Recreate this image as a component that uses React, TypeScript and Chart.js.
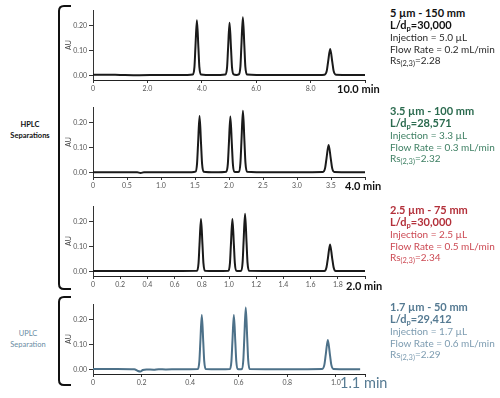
import React, { useEffect, useRef } from "react";
import { Chart, registerables } from "chart.js";
Chart.register(...registerables);

// ---------- Data ----------
const yTicks = [0, 0.1, 0.2];
const yTickLabels = ["0.00", "0.10", "0.20"];

// Panel 1: 5 µm - 150 mm (0–10 min)
const times1 = [0, 0.5, 1.0, 1.7, 2.5, 3.2, 3.67, 3.73, 3.765, 3.82, 3.875, 3.91, 3.97, 4.4, 4.87, 4.93, 4.965, 5.02, 5.075, 5.11, 5.17, 5.27, 5.36, 5.42, 5.455, 5.51, 5.565, 5.6, 5.66, 6.5, 7.5, 8.3, 8.51, 8.594, 8.643, 8.72, 8.797, 8.846, 8.93, 9.5, 10];
const values1 = [0.005, 0.005, 0.004, 0.003, 0.004, 0.004, 0.006, 0.036, 0.112, 0.22, 0.112, 0.036, 0.006, 0.004, 0.006, 0.035, 0.107, 0.21, 0.107, 0.035, 0.006, 0.004, 0.006, 0.038, 0.118, 0.232, 0.118, 0.038, 0.006, 0.004, 0.004, 0.004, 0.005, 0.02, 0.056, 0.107, 0.056, 0.02, 0.005, 0.004, 0.004];
const xTicks1 = [0, 2, 4, 6, 8, 10];
const xLabels1 = ["0", "2.0", "4.0", "6.0", "8.0", ""];

// Panel 2: 3.5 µm - 100 mm (0–4 min)
const times2 = [0, 0.3, 0.65, 0.7, 0.75, 1.1, 1.45, 1.508, 1.53, 1.545, 1.567, 1.589, 1.604, 1.626, 1.8, 1.961, 1.983, 1.998, 2.02, 2.042, 2.057, 2.079, 2.112, 2.146, 2.168, 2.183, 2.205, 2.227, 2.242, 2.264, 2.6, 3.0, 3.382, 3.413, 3.434, 3.465, 3.496, 3.517, 3.548, 3.8, 4.0];
const values2 = [0.003, 0.003, 0.003, 0.0, 0.003, 0.003, 0.003, 0.005, 0.037, 0.115, 0.225, 0.115, 0.037, 0.005, 0.003, 0.005, 0.036, 0.114, 0.223, 0.114, 0.036, 0.005, 0.004, 0.005, 0.04, 0.125, 0.246, 0.125, 0.04, 0.005, 0.003, 0.003, 0.004, 0.019, 0.058, 0.111, 0.058, 0.019, 0.004, 0.003, 0.003];
const xTicks2 = [0, 0.5, 1.0, 1.5, 2.0, 2.5, 3.0, 3.5, 4.0];
const xLabels2 = ["0", "0.5", "1.0", "1.5", "2.0", "2.5", "3.0", "3.5", ""];

// Panel 3: 2.5 µm - 75 mm (0–2 min)
const times3 = [0, 0.4, 0.765, 0.776, 0.783, 0.794, 0.805, 0.812, 0.823, 0.9, 0.996, 1.007, 1.014, 1.025, 1.036, 1.043, 1.054, 1.0715, 1.089, 1.1, 1.107, 1.118, 1.129, 1.136, 1.147, 1.4, 1.702, 1.717, 1.728, 1.743, 1.758, 1.769, 1.784, 2.0];
const values3 = [0.004, 0.004, 0.005, 0.035, 0.107, 0.209, 0.107, 0.035, 0.005, 0.004, 0.005, 0.035, 0.107, 0.209, 0.107, 0.035, 0.005, 0.004, 0.005, 0.038, 0.117, 0.23, 0.117, 0.038, 0.005, 0.004, 0.004, 0.019, 0.057, 0.109, 0.057, 0.019, 0.004, 0.004];
const xTicks3 = [0, 0.2, 0.4, 0.6, 0.8, 1.0, 1.2, 1.4, 1.6, 1.8, 2.0];
const xLabels3 = ["0", "0.2", "0.4", "0.6", "0.8", "1.0", "1.2", "1.4", "1.6", "1.8", ""];

// Panel 4: 1.7 µm - 50 mm (UPLC, 0–1.1 min)
const times4 = [0, 0.1, 0.17, 0.185, 0.195, 0.205, 0.22, 0.25, 0.27, 0.3, 0.35, 0.432, 0.438, 0.442, 0.448, 0.454, 0.458, 0.464, 0.52, 0.564, 0.57, 0.574, 0.58, 0.586, 0.59, 0.596, 0.6045, 0.613, 0.619, 0.623, 0.629, 0.635, 0.639, 0.645, 0.8, 0.944, 0.9526, 0.9584, 0.967, 0.9756, 0.9814, 0.99, 1.05, 1.1];
const values4 = [0.004, 0.004, 0.003, -0.004, -0.006, 0.0, 0.002, 0.001, 0.003, 0.002, 0.003, 0.004, 0.035, 0.111, 0.217, 0.111, 0.035, 0.004, 0.003, 0.004, 0.035, 0.111, 0.217, 0.111, 0.035, 0.004, 0.003, 0.004, 0.04, 0.126, 0.247, 0.126, 0.04, 0.004, 0.003, 0.004, 0.02, 0.061, 0.118, 0.061, 0.02, 0.004, 0.003, 0.003];
const xTicks4 = [0, 0.2, 0.4, 0.6, 0.8, 1.0, 1.12];
const xLabels4 = ["0", "0.2", "0.4", "0.6", "0.8", "1.0", ""];

const FONT = "Lato, 'Open Sans', sans-serif";

type PanelProps = {
  times: number[];
  values: number[];
  xMax: number;
  xTicks: number[];
  xLabels: string[];
  color: string;
  top: number;
};

function Panel({ times, values, xMax, xTicks, xLabels, color, top }: PanelProps) {
  const ref = useRef<HTMLCanvasElement>(null);
  useEffect(() => {
    const chart = new Chart(ref.current as HTMLCanvasElement, {
      type: "line",
      data: {
        datasets: [
          {
            data: times.map((t, i) => ({ x: t, y: values[i] })),
            borderColor: color,
            borderWidth: 2,
            pointRadius: 0,
            cubicInterpolationMode: "monotone",
            fill: false,
          },
        ],
      },
      options: {
        animation: false,
        responsive: false,
        maintainAspectRatio: false,
        layout: { padding: { top: 3, right: 5, left: 0, bottom: 0 } },
        plugins: { legend: { display: false }, tooltip: { enabled: false } },
        scales: {
          x: {
            type: "linear",
            min: 0,
            max: xMax,
            afterBuildTicks: (s: any) => {
              s.ticks = xTicks.map((v) => ({ value: v }));
            },
            afterFit: (s: any) => {
              s.height = 16;
            },
            ticks: {
              font: { size: 7, family: FONT },
              color: "#555",
              padding: 2,
              maxRotation: 0,
              autoSkip: false,
              callback: (_v: any, i: number) => xLabels[i],
            },
            grid: { drawOnChartArea: false, tickLength: 3, color: "#333" },
            border: { color: "#222", width: 1 },
          },
          y: {
            min: -0.016,
            max: 0.26,
            afterBuildTicks: (s: any) => {
              s.ticks = yTicks.map((v) => ({ value: v }));
            },
            afterFit: (s: any) => {
              s.width = 33;
            },
            ticks: {
              font: { size: 7, family: FONT },
              color: "#555",
              padding: 2,
              autoSkip: false,
              callback: (_v: any, i: number) => yTickLabels[i],
            },
            title: {
              display: true,
              text: "AU",
              font: { size: 7, family: FONT },
              color: "#444",
              padding: { top: 5, bottom: 0 },
            },
            grid: { drawOnChartArea: false, tickLength: 4, color: "#333" },
            border: { color: "#333", width: 1 },
          },
        },
      },
    } as any);
    return () => chart.destroy();
  }, []);
  return (
    <canvas
      ref={ref}
      width={310}
      height={92}
      style={{ position: "absolute", left: 60, top, width: 310, height: 92 }}
    />
  );
}

type InfoProps = {
  top: number;
  bold: string;
  regular: string;
  size: string;
  ld: string;
  inj: string;
  flow: string;
  rs: string;
};

function Info({ top, bold, regular, size, ld, inj, flow, rs }: InfoProps) {
  const line = (y: number, color: string, weight: number, fs: number, content: React.ReactNode) => (
    <div
      style={{
        position: "absolute",
        left: 390,
        top: top + y,
        color,
        fontWeight: weight,
        fontSize: fs,
        lineHeight: "12px",
        whiteSpace: "nowrap",
        fontFamily: FONT,
      }}
    >
      {content}
    </div>
  );
  const sub: React.CSSProperties = { fontSize: 7.5, verticalAlign: "-2px", lineHeight: 0 };
  return (
    <>
      {line(0, bold, 700, 11, size)}
      {line(12, bold, 700, 11, <>L/d<span style={sub}>p</span>={ld}</>)}
      {line(24, regular, 400, 10, `Injection = ${inj} µL`)}
      {line(35.5, regular, 400, 10, `Flow Rate = ${flow} mL/min`)}
      {line(47, regular, 400, 10, <>Rs<span style={sub}>(2,3)</span>={rs}</>)}
    </>
  );
}

function Label({ left, top, text, size, color, weight }: { left: number; top: number; text: string; size: number; color: string; weight: number }) {
  return (
    <div
      style={{
        position: "absolute",
        left,
        top,
        fontSize: size,
        color,
        fontWeight: weight,
        fontFamily: FONT,
        whiteSpace: "nowrap",
        lineHeight: 1,
      }}
    >
      {text}
    </div>
  );
}

export default function App() {
  const blue = "#557a92";
  return (
    <div style={{ position: "absolute", left: 0, top: 0, width: 500, height: 398, background: "#fff", overflow: "hidden" }}>
      <svg width={500} height={398} style={{ position: "absolute", left: 0, top: 0 }}>
        <path d="M 71 6 H 64 Q 59 6 59 11 V 284 Q 59 289 64 289 H 71" fill="none" stroke="#111" strokeWidth={2} />
        <path d="M 71 297 H 64 Q 59 297 59 302 V 380 Q 59 385 64 385 H 71" fill="none" stroke="#111" strokeWidth={2} />
      </svg>
      <div style={{ position: "absolute", left: 0, width: 60, top: 119, textAlign: "center", fontFamily: FONT, fontWeight: 700, fontSize: 7.5, lineHeight: "11px", color: "#111" }}>
        HPLC<br />Separations
      </div>
      <div style={{ position: "absolute", left: 0, width: 56, top: 328, textAlign: "center", fontFamily: FONT, fontWeight: 400, fontSize: 7.5, lineHeight: "11px", color: "#6a8ca3" }}>
        UPLC<br />Separation
      </div>

      <Panel times={times1} values={values1} xMax={10} xTicks={xTicks1} xLabels={xLabels1} color="#1a1a1a" top={4} />
      <Panel times={times2} values={values2} xMax={4} xTicks={xTicks2} xLabels={xLabels2} color="#1a1a1a" top={101} />
      <Panel times={times3} values={values3} xMax={2} xTicks={xTicks3} xLabels={xLabels3} color="#1a1a1a" top={200} />
      <Panel times={times4} values={values4} xMax={1.12} xTicks={xTicks4} xLabels={xLabels4} color="#4d7189" top={298} />

      <Label left={337} top={83} text="10.0 min" size={11} color="#111" weight={700} />
      <Label left={345} top={180} text="4.0 min" size={11} color="#111" weight={700} />
      <Label left={346} top={280} text="2.0 min" size={11} color="#111" weight={700} />
      <Label left={340} top={376} text="1.1 min" size={14.5} color={blue} weight={400} />

      <Info top={7} bold="#111" regular="#2a2a2a" size="5 µm - 150 mm" ld="30,000" inj="5.0" flow="0.2" rs="2.28" />
      <Info top={105} bold="#2a6a4e" regular="#3f8064" size="3.5 µm - 100 mm" ld="28,571" inj="3.3" flow="0.3" rs="2.32" />
      <Info top={204} bold="#b3303a" regular="#cc4a54" size="2.5 µm - 75 mm" ld="30,000" inj="2.5" flow="0.5" rs="2.34" />
      <Info top={301} bold="#557a92" regular="#7d9cb1" size="1.7 µm - 50 mm" ld="29,412" inj="1.7" flow="0.6" rs="2.29" />
    </div>
  );
}
